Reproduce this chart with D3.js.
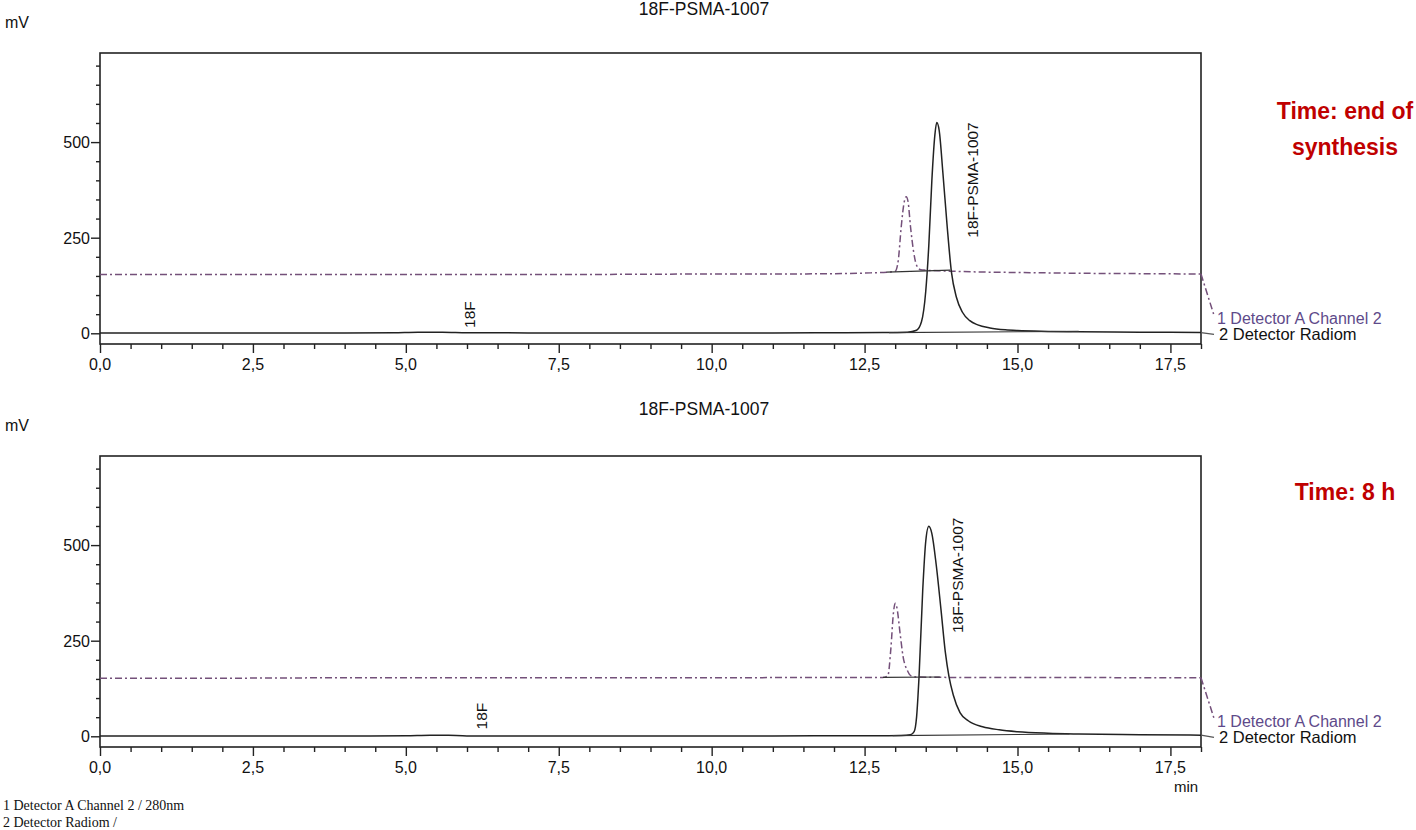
<!DOCTYPE html>
<html>
	<head>
		<meta charset="utf-8">
		<title>18F-PSMA-1007</title>
		<style>
			body { margin: 0; background: #fff; }
			svg { display: block; font-family: Arial, "Liberation Sans", sans-serif; }
		</style>
	</head>
	<body>
		<svg></svg>
		<script src="https://d3js.org/d3.v7.min.js"></script>
		<script>
			// data: [time (min), mV]
			var radiomEOS = [[0,0.5],[1,0.5],[2,0.6],[3,0.6],[4,0.8],[4.8,1.5],[5.2,3],[5.6,3],[6,1.5],[7,1],[8,1],[9,1],[10,1],[11,1],[12,1.5],[12.8,2],[13.2,3],[13.35,8],[13.43,30],[13.5,110],[13.55,230],[13.6,400],[13.65,520],[13.68,551],[13.72,530],[13.78,420],[13.85,280],[13.92,160],[14.0,95],[14.1,55],[14.22,33],[14.35,22],[14.55,14],[14.8,9],[15.0,7],[15.5,5],[16,4],[17,3],[18,2]]
			var channel2EOS = [[0,154],[2,154],[4,154],[6,154],[8,154],[10,155],[11,155],[12,156],[12.6,158],[12.9,160],[13.0,162],[13.05,190],[13.1,280],[13.15,345],[13.18,357],[13.21,345],[13.25,280],[13.3,215],[13.35,178],[13.42,166],[13.5,165],[13.8,163],[14.5,160],[15,159],[16,157],[17,156],[18,155]]
			var radiom8h = [[0,0.5],[1,0.5],[2,0.5],[3,0.6],[4,0.8],[5,1.5],[5.4,3],[5.7,2.5],[6,1],[7,1],[8,1],[9,1],[10,1],[11,1],[12,1.2],[12.8,1.5],[13.1,2],[13.25,4],[13.31,12],[13.35,50],[13.39,155],[13.45,380],[13.5,510],[13.55,549],[13.6,530],[13.67,450],[13.75,330],[13.82,220],[13.88,156],[13.95,108],[14.06,62],[14.2,40],[14.43,25],[14.7,17],[15,12],[15.5,8],[16,6],[17,4],[18,3]]
			var channel28h = [[0,152],[2,152],[4,153],[6,153],[8,153],[10,153],[12,154],[12.8,154],[12.88,158],[12.93,230],[12.97,320],[13.0,348],[13.03,335],[13.08,270],[13.13,208],[13.2,172],[13.26,158],[13.35,155],[14,154],[15,154],[16,154],[17,153],[18,153]]
			// integration baselines
			var baseEOS = [[[12.86,160],[13.9,165]], [[12.9,2],[16,5]]]
			var base8h = [[[12.8,154],[13.73,155]], [[12.96,1.5],[15.85,6]]]
			var xTicks = [0, 2.5, 5, 7.5, 10, 12.5, 15, 17.5]
			var yTicks = [0, 250, 500]

			var panels = [
				{ top: 53, radiom: radiomEOS, ch2: channel2EOS, base: baseEOS, lbl18F: [6.05, 14], lblPeak: [14.28, 250], note: ["Time: end of", "synthesis"], showMin: false },
				{ top: 456, radiom: radiom8h, ch2: channel28h, base: base8h, lbl18F: [6.25, 18], lblPeak: [14.03, 270], note: ["Time: 8 h"], showMin: true }
			]

			var _width = 1416, _height = 830
			var _svg = d3.select("svg").attr("width", _width).attr("height", _height)
			var purple = "#74507a"
			var fmt = function(d) { return d3.format(".1f")(d).replace(".", ",") }

			var x = d3.scaleLinear().domain([0, 18]).range([100, 1201])

			panels.forEach(function(p) {
				var h = 291
				var y = d3.scaleLinear().domain([-28, 733]).range([p.top + h, p.top])
				var g = _svg.append("g")
				var line = d3.line().x(function(d) { return x(d[0]) }).y(function(d) { return y(d[1]) }).curve(d3.curveMonotoneX)

				// title + unit
				g.append("text").attr("x", 704).attr("y", Math.max(p.top - 41, 15)).attr("text-anchor", "middle")
					.attr("font-size", 17.5).attr("fill", "#111").text("18F-PSMA-1007")
				g.append("text").attr("x", 5).attr("y", p.top - 25).attr("font-size", 16).attr("fill", "#111").text("mV")

				// axes
				var xAxis = d3.axisBottom(x).tickValues(d3.range(0, 18.01, 0.5)).tickSize(0).tickFormat("")
				g.append("g").attr("transform", "translate(0," + (p.top + h) + ")").call(xAxis)
					.call(function(a) { a.select(".domain").remove() })
					.selectAll(".tick line").attr("y2", function(d) { return d % 2.5 === 0 ? 9 : 5 }).attr("stroke", "#222").attr("stroke-width", 1.4)
				g.append("g").selectAll("text").data(xTicks).join("text")
					.attr("x", function(d) { return x(d) }).attr("y", p.top + h + 26)
					.attr("text-anchor", "middle").attr("font-size", 16).attr("fill", "#111").text(fmt)

				var yAxis = d3.axisLeft(y).tickValues(d3.range(0, 701, 50)).tickSize(0).tickFormat("")
				g.append("g").attr("transform", "translate(100,0)").call(yAxis)
					.call(function(a) { a.select(".domain").remove() })
					.selectAll(".tick line").attr("x2", function(d) { return d % 250 === 0 ? -9 : -4 }).attr("stroke", "#222").attr("stroke-width", 1.4)
				g.append("g").selectAll("text").data(yTicks).join("text")
					.attr("x", 90).attr("y", function(d) { return y(d) + 6 })
					.attr("text-anchor", "end").attr("font-size", 16).attr("fill", "#111").text(function(d) { return d })

				// box
				g.append("rect").attr("x", x(0)).attr("y", p.top).attr("width", x(18) - x(0)).attr("height", h)
					.attr("fill", "none").attr("stroke", "#222").attr("stroke-width", 1.6)

				// traces
				g.append("path").datum(p.ch2).attr("d", line).attr("fill", "none")
					.attr("stroke", purple).attr("stroke-width", 1.5).attr("stroke-dasharray", "7,3,2,3")
				g.append("path").datum(p.radiom).attr("d", line).attr("fill", "none")
					.attr("stroke", "#222").attr("stroke-width", 1.5)
				p.base.forEach(function(b) {
					g.append("path").datum(b).attr("d", d3.line().x(function(d) { return x(d[0]) }).y(function(d) { return y(d[1]) }))
						.attr("stroke", "#333").attr("stroke-width", 1.2).attr("fill", "none")
				})

				// leaders to trace names
				var lastC = p.ch2[p.ch2.length - 1], lastR = p.radiom[p.radiom.length - 1]
				g.append("line").attr("x1", x(lastC[0])).attr("y1", y(lastC[1])).attr("x2", 1214).attr("y2", y(0) - 18)
					.attr("stroke", purple).attr("stroke-width", 1.5).attr("stroke-dasharray", "7,3,2,3")
				g.append("line").attr("x1", x(lastR[0])).attr("y1", y(lastR[1])).attr("x2", 1214).attr("y2", y(0) + 1)
					.attr("stroke", "#555").attr("stroke-width", 1.3)
				g.append("text").attr("x", 1217).attr("y", y(0) - 9).attr("font-size", 16).attr("fill", "#5e4a8a").text("1 Detector A Channel 2")
				g.append("text").attr("x", 1219).attr("y", y(0) + 7).attr("font-size", 16.5).attr("fill", "#111").text("2 Detector Radiom")

				// peak labels
				g.append("text").attr("transform", "translate(" + (x(p.lbl18F[0]) + 5) + "," + y(p.lbl18F[1]) + ") rotate(-90)")
					.attr("font-size", 15.5).attr("fill", "#111").text("18F")
				g.append("text").attr("transform", "translate(" + (x(p.lblPeak[0]) + 5) + "," + y(p.lblPeak[1]) + ") rotate(-90)")
					.attr("font-size", 15.5).attr("fill", "#111").text("18F-PSMA-1007")

				// red note
				p.note.forEach(function(t, i) {
					g.append("text").attr("x", 1345).attr("y", p.top + (p.note.length > 1 ? 66 : 44) + i * 36)
						.attr("text-anchor", "middle").attr("font-size", 23).attr("font-weight", "bold")
						.attr("fill", "#c00000").text(t)
				})

				if (p.showMin) {
					g.append("text").attr("x", 1186).attr("y", p.top + h + 45).attr("text-anchor", "middle")
						.attr("font-size", 15).attr("fill", "#111").text("min")
				}
			})

			// footer legend
			var footer = ["1  Detector A Channel 2 / 280nm", "2  Detector Radiom /"]
			_svg.selectAll("text.foot").data(footer).join("text").attr("class", "foot")
				.attr("x", 3).attr("y", function(d, i) { return 810 + i * 17 })
				.attr("font-family", "'Liberation Serif', 'Times New Roman', serif").attr("font-size", 14)
				.attr("fill", "#111").text(function(d) { return d })
		</script>
	</body>
</html>
